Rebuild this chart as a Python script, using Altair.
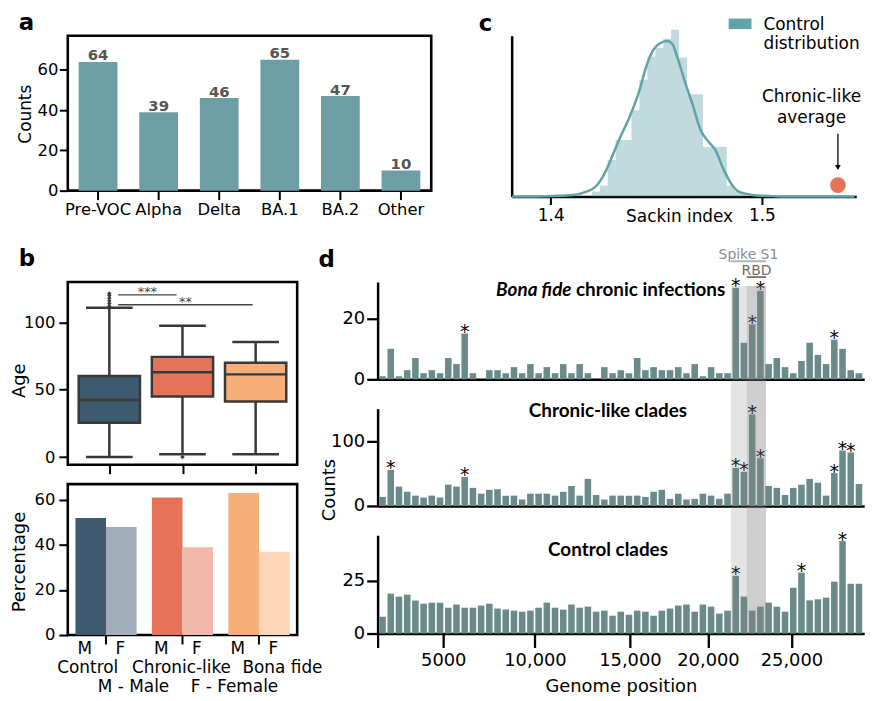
import altair as alt
import pandas as pd

FONT = "DejaVu Sans"
HEAD_FONT = "Lato"

# ---------------- panel a : clade counts ----------------
variants = ["Pre-VOC", "Alpha", "Delta", "BA.1", "BA.2", "Other"]
variant_counts = [64, 39, 46, 65, 47, 10]

# ---------------- panel b : age box statistics ----------------
groups = ["Control", "Chronic-like", "Bona fide"]
group_pos = [0, 1, 2]
age_low = [0, 2, 2]
age_q1 = [25.5, 45.0, 41.3]
age_median = [42.3, 63.0, 61.4]
age_q3 = [60.2, 74.4, 70.0]
age_high = [110.8, 97.5, 85.5]
outlier_pos = [0, 0, 0, 0, 0, 0, 1]
outlier_age = [112, 114, 116, 118, 120, 121.5, 0]
sig_text = ["***", "**"]
sig_from = [0.12, 0.12]
sig_to = [0.92, 1.96]
sig_level = [120.4, 113.1]

# ---------------- panel b : sex percentages ----------------
sexes = ["M", "F"]
male_pct = [52, 61, 63]
female_pct = [48, 39, 37]

# ---------------- panel c : Sackin index ----------------
kde_x = [1.3816, 1.4013, 1.4107, 1.4169, 1.4216, 1.4263, 1.4303, 1.4326, 1.4373, 1.4420,
         1.4451, 1.4483, 1.4514, 1.4553, 1.4577, 1.4600, 1.4639, 1.4671, 1.4710, 1.4741,
         1.4780, 1.4820, 1.4859, 1.4890, 1.4953, 1.5031, 1.5110, 1.5439]
kde_y = [0, 0.07, 0.17, 0.5, 1.07, 2.67, 4.67, 5.83, 8.0, 10.67,
         13.0, 14.67, 15.4, 15.67, 15.33, 14.0, 11.33, 9.33, 6.67, 5.67,
         4.67, 2.67, 1.17, 0.5, 0.17, 0.07, 0, 0]
hist_edges = [1.41943, 1.42320, 1.42696, 1.43072, 1.43448, 1.43824, 1.44200, 1.44576,
              1.44952, 1.45328, 1.45704, 1.46080, 1.46456, 1.46833, 1.47209, 1.47585,
              1.47961, 1.48337, 1.48713, 1.49089]
hist_height = [0.5, 1.1, 3.7, 5.7, 5.7, 8.7, 11.8, 14.1, 15.0, 15.9, 16.8, 14.0, 10.3,
               10.3, 5.0, 5.0, 5.0, 1.1, 0.5]
chronic_avg_x = [1.536]
chronic_avg_y = [1.16]
annot_lines = ["Chronic-like", "average"]
annot_x = [1.5235, 1.5235]
annot_y = [9.54, 7.41]
arrow_x = [1.536]
arrow_from = [6.33]
arrow_to = [3.1]
arrow_head = [2.93]

# ---------------- panel d : mutation counts along genome ----------------
genome_bin = list(range(1, 60))
bona_fide_counts = [1, 10, 1, 3, 7, 2, 3, 2, 7, 5, 15, 2, 0, 3, 3, 2, 4, 2, 5, 2,
                    4, 2, 5, 2, 5, 2, 0, 4, 2, 3, 2, 7, 3, 4, 3, 3, 4, 2, 5, 1,
                    4, 2, 2, 30, 12, 18, 29, 5, 7, 4, 2, 6, 12, 8, 5, 13, 10, 3, 2]
chronic_like_counts = [14, 56, 30, 22, 16, 13, 16, 13, 33, 30, 45, 28, 19, 25, 26, 16, 16, 10, 19, 19,
                       19, 16, 22, 31, 16, 42, 17, 10, 16, 16, 16, 16, 14, 22, 25, 11, 19, 10, 11, 19,
                       16, 11, 19, 59, 53, 142, 74, 31, 28, 17, 28, 33, 42, 36, 16, 51, 86, 83, 34]
control_counts = [8, 19, 17.6, 18.5, 15.7, 14.2, 14.7, 14.7, 12.3, 13.8, 12.3, 12.3, 13.3, 14.2, 11.9,
                  11.4, 10.9, 10.4, 10.9, 12.3, 14.7, 12.3, 11.4, 13.8, 12.3, 12.8, 10.4, 10.9, 8.5, 10.4,
                  9.0, 10.9, 10.4, 8.5, 10.9, 11.9, 13.3, 13.8, 10.4, 13.8, 12.8, 9.5, 10.9, 27.5, 17.6,
                  10.9, 12.8, 14.7, 12.8, 10.4, 21.8, 29, 15.8, 16.3, 17.1, 24.7, 44, 23.7, 23.7]
bona_fide_stars = [11, 44, 46, 47, 56]
chronic_like_stars = [2, 11, 44, 45, 46, 47, 56, 57, 58]
control_stars = [44, 52, 57]
genome_tick_bins = [0.40, 8.39, 19.56, 31.12, 40.62, 50.78]
genome_tick_labels = ["", "5000", "10,000", "15,000", "20,000", "25,000"]
region_names = ["Spike S1", "RBD"]
region_start = [43.4, 45.35]
region_end = [47.69, 47.69]

# ---------------- styles ----------------
TEAL_A = "#6e9ea5"
TEAL_C = "#62a3ab"
D_BAR = "#6b8b8a"
EDGE = "#383838"
RED = "#e5735a"
BOX_COLORS = ["#3d5a6e", "#e5735a", "#f8ae78"]
SEX_COLORS = ["#3d5a6e", "#a1adb8", "#e5735a", "#f0b9ab", "#f8ae78", "#fcd5b9"]
FRAME = alt.ViewBackground(stroke="black", strokeWidth=2.6)
ONE = alt.Data(values=[{"k": 1}])
D_WIDTH = 490


def letter(ch, x, y):
    return alt.Chart(ONE).mark_text(text=ch, fontSize=23, fontWeight="bold", align="left",
                                    baseline="alphabetic", color="black").encode(
        x=alt.value(x), y=alt.value(y))


def anchor(x, y):
    # invisible point that fixes the layout bounds
    return alt.Chart(ONE).mark_point(opacity=0, size=1, filled=True, strokeWidth=0).encode(
        x=alt.value(x), y=alt.value(y))


# ================= panel a =================
df_a = pd.DataFrame({"variant": variants, "count": variant_counts})
xa = alt.X("variant:N", sort=variants, title=None,
           scale=alt.Scale(paddingInner=0.36, paddingOuter=0.18),
           axis=alt.Axis(labelAngle=0, domain=False, tickSize=9, tickWidth=2,
                         labelPadding=2.3, labelFontSize=16.5))
ya = alt.Y("count:Q", scale=alt.Scale(domain=[0, 77], nice=False),
           axis=alt.Axis(values=[0, 20, 40, 60], domain=False, tickSize=8.5, tickWidth=2,
                         labelPadding=1.5, labelFontSize=16.5, title="Counts", titleFontSize=17,
                         titleX=-42.7, titleY=78.5, titleAngle=270, titleAlign="center",
                         titleBaseline="middle"))
a_bars = alt.Chart(df_a).mark_bar(color=TEAL_A).encode(x=xa, y=ya)
a_text = alt.Chart(df_a).mark_text(fontSize=15, fontWeight="bold", color="#555555",
                                   baseline="alphabetic", dy=-1.5).encode(x=xa, y=ya, text="count:Q")
panel_a = alt.layer(a_bars, a_text, letter("a", -49.4, -5.5), anchor(-80, -45)).properties(
    width=366, height=156, view=FRAME)

# ================= panel b (age) =================
df_box = pd.DataFrame({"pos": group_pos, "group": groups, "lo": age_low, "q1": age_q1,
                       "med": age_median, "q3": age_q3, "hi": age_high})
df_out = pd.DataFrame({"pos": outlier_pos, "age": outlier_age})
df_sig = pd.DataFrame({"label": sig_text, "x0": sig_from, "x1": sig_to, "y": sig_level})

xb_scale = alt.Scale(domain=[-0.5, 2.5], nice=False, zero=False)
xb_axis = alt.Axis(values=[0, 1, 2], labels=False, domain=False, tickSize=9, tickWidth=2, title=None)
yb_scale = alt.Scale(domain=[-5.7, 130], nice=False, zero=False)
yb_axis = alt.Axis(values=[0, 50, 100], domain=False, tickSize=9, tickWidth=2, labelPadding=4,
                   labelFontSize=16.5, title="Age", titleFontSize=18, titleX=-48.8, titleY=99,
                   titleAngle=270, titleAlign="center", titleBaseline="middle")


def xb(f):
    return alt.X(f"{f}:Q", scale=xb_scale, axis=xb_axis)


def yb(f):
    return alt.Y(f"{f}:Q", scale=yb_scale, axis=yb_axis)


box_base = alt.Chart(df_box)
w_lo = box_base.mark_rule(color=EDGE, strokeWidth=2.5).encode(x=xb("pos"), y=yb("lo"), y2="q1:Q")
w_hi = box_base.mark_rule(color=EDGE, strokeWidth=2.5).encode(x=xb("pos"), y=yb("q3"), y2="hi:Q")
boxes = box_base.mark_bar(size=61.7, stroke=EDGE, strokeWidth=2.5).encode(
    x=xb("pos"), y=yb("q1"), y2="q3:Q",
    color=alt.Color("group:N", scale=alt.Scale(domain=groups, range=BOX_COLORS), legend=None))
cap_lo = box_base.mark_tick(size=47, thickness=2.5, orient="horizontal", color=EDGE, opacity=1).encode(
    x=xb("pos"), y=yb("lo"))
cap_hi = box_base.mark_tick(size=47, thickness=2.5, orient="horizontal", color=EDGE, opacity=1).encode(
    x=xb("pos"), y=yb("hi"))
medians = box_base.mark_tick(size=61.7, thickness=2.5, orient="horizontal", color=EDGE, opacity=1).encode(
    x=xb("pos"), y=yb("med"))
outliers = alt.Chart(df_out).mark_point(shape="diamond", filled=True, size=20, color="#3a3a3a",
                                        opacity=1).encode(x=xb("pos"), y=yb("age"))
sig_rules = alt.Chart(df_sig).mark_rule(color="#444444", strokeWidth=1.3).encode(
    x=xb("x0"), x2="x1:Q", y=yb("y"))
sig_labels = alt.Chart(df_sig).transform_calculate(xm="(datum.x0 + datum.x1) / 2").mark_text(
    fontSize=13, color="#444444", baseline="alphabetic", dy=1).encode(x=xb("xm"), y=yb("y"), text="label:N")
panel_b1 = alt.layer(w_lo, w_hi, boxes, cap_lo, cap_hi, medians, outliers, sig_rules, sig_labels,
                     letter("b", -49.4, -16.5), anchor(-80, -48)).properties(
    width=231, height=184, view=FRAME)

# ================= panel b (sex) =================
df_sex = pd.DataFrame({"group": groups * 2, "sex": ["M"] * 3 + ["F"] * 3,
                       "pct": male_pct + female_pct})
df_sex["key"] = df_sex["group"] + "-" + df_sex["sex"]
keys = [f"{g}-{s}" for g in groups for s in sexes]
x2b = alt.X("group:N", sort=groups, scale=alt.Scale(paddingInner=0.2, paddingOuter=0.1),
            axis=alt.Axis(labelAngle=0, domain=False, tickSize=9, tickWidth=2, labelPadding=16,
                          labelFontSize=17,
                          labelOffset={"condition": [{"test": "datum.label === 'Control'", "value": -18.4},
                                                     {"test": "datum.label === 'Bona fide'", "value": 23.7}],
                                       "value": -1},
                          title="M - Male\u00a0\u00a0\u00a0\u00a0F - Female", titleFontSize=17,
                          titleX=120.6, titleY=57, titleBaseline="alphabetic", titleAlign="center"))
xo = alt.XOffset("sex:N", sort=sexes, scale=alt.Scale(paddingInner=0, paddingOuter=0))
y2b = alt.Y("pct:Q", scale=alt.Scale(domain=[0, 67], nice=False),
            axis=alt.Axis(values=[0, 20, 40, 60], domain=False, tickSize=9, tickWidth=2, labelPadding=4,
                          labelFontSize=16.5, title="Percentage", titleFontSize=18, titleX=-48.2,
                          titleY=78, titleAngle=270, titleAlign="center", titleBaseline="middle"))
sex_bars = alt.Chart(df_sex).mark_bar().encode(
    x=x2b, xOffset=xo, y=y2b,
    color=alt.Color("key:N", scale=alt.Scale(domain=keys, range=SEX_COLORS), legend=None))
m_text = alt.Chart(df_sex).transform_filter("datum.sex === 'M'").mark_text(
    fontSize=17, baseline="alphabetic", dx=-6).encode(x=x2b, xOffset=xo, y=alt.value(171.5), text="sex:N")
f_text = alt.Chart(df_sex).transform_filter("datum.sex === 'F'").mark_text(
    fontSize=17, baseline="alphabetic", dx=-1).encode(x=x2b, xOffset=xo, y=alt.value(171.5), text="sex:N")
panel_b2 = alt.layer(sex_bars, m_text, f_text, anchor(276, 232)).properties(
    width=231, height=152, view=FRAME)

# ================= panel c =================
df_hist = pd.DataFrame({"x0": hist_edges[:-1], "x1": hist_edges[1:], "h": hist_height,
                        "series": "Control distribution"})
df_kde = pd.DataFrame({"x": kde_x, "y": kde_y})
df_avg = pd.DataFrame({"x": chronic_avg_x, "y": chronic_avg_y})
df_annot = pd.DataFrame({"t": annot_lines, "x": annot_x, "y": annot_y})
df_arrow = pd.DataFrame({"x": arrow_x, "y0": arrow_from, "y1": arrow_to, "yh": arrow_head})

xc_scale = alt.Scale(domain=[1.3815, 1.5447], nice=False, zero=False)
xc_axis = alt.Axis(values=[1.4, 1.5], format=".1f", tickSize=8, tickWidth=2, labelPadding=3.4,
                   labelFontSize=17, labelFlush=False, title="Sackin index", titleFontSize=17,
                   titleX=168.6, titleY=25, titleBaseline="alphabetic", titleAlign="center")
yc_scale = alt.Scale(domain=[0, 16.2], nice=False, zero=True)
yc_axis = alt.Axis(title=None, labels=False, ticks=False, domain=True)


def xc(f):
    return alt.X(f"{f}:Q", scale=xc_scale, axis=xc_axis)


def yc(f):
    return alt.Y(f"{f}:Q", scale=yc_scale, axis=yc_axis)


hist = alt.Chart(df_hist).mark_bar(opacity=0.4).encode(
    x=xc("x0"), x2="x1:Q", y=yc("h"), y2=alt.datum(0),
    color=alt.Color("series:N", scale=alt.Scale(domain=["Control distribution"], range=[TEAL_C]),
                    legend=alt.Legend(orient="none", legendX=218.5, legendY=-17, title=None,
                                      padding=0, symbolType="M-1,-1.025H1V-0.105H-1Z", symbolSize=529,
                                      symbolOpacity=1, symbolStrokeWidth=0, labelFontSize=17,
                                      labelOffset=12, labelBaseline="alphabetic",
                                      labelExpr="['Control', 'distribution']")))
kde = alt.Chart(df_kde).mark_line(color=TEAL_C, strokeWidth=2.5, interpolate="monotone").encode(
    x=xc("x"), y=yc("y"))
avg_dot = alt.Chart(df_avg).mark_point(filled=True, size=250, color=RED, opacity=1).encode(
    x=xc("x"), y=yc("y"))
arrow_line = alt.Chart(df_arrow).mark_rule(color="black", strokeWidth=1.3).encode(
    x=xc("x"), y=yc("y0"), y2="y1:Q")
arrow_tip = alt.Chart(df_arrow).mark_point(shape="triangle-down", filled=True, size=32, color="black",
                                           opacity=1).encode(x=xc("x"), y=yc("yh"))
annot = alt.Chart(df_annot).mark_text(fontSize=17, baseline="alphabetic").encode(
    x=xc("x"), y=yc("y"), text="t:N")
panel_c = alt.layer(hist, kde, avg_dot, arrow_line, arrow_tip, annot, letter("c", -33.2, -5),
                    anchor(0, 197)).properties(width=347, height=162)

# ================= panel d =================
tick_expr = ("[" + ",".join(f"'{l}'" for l in genome_tick_labels) + "][indexof(["
             + ",".join(str(v) for v in genome_tick_bins) + "], datum.value)]")
df_reg = pd.DataFrame({"region": region_names, "start": region_start, "end": region_end})
X_DOMAIN = [0.40, 59.64]


def genome_panel(counts, stars, ymax, ytick, height, bottom, shade_top, shade_bottom,
                 titles, extra=(), y_title=None):
    df = pd.DataFrame({"bin": genome_bin, "count": counts})
    df["star"] = df["bin"].isin(stars)
    if bottom:
        xaxis = alt.Axis(values=genome_tick_bins, labelExpr=tick_expr, tickSize=14, tickWidth=2.3,
                         labelPadding=4.5, labelFontSize=18, labelFlush=False, labelOverlap=False,
                         title="Genome position", titleFontSize=18, titleY=58.5,
                         titleBaseline="alphabetic")
    else:
        xaxis = alt.Axis(ticks=False, labels=False, title=None)
    if y_title:
        yaxis = alt.Axis(values=[0, ytick], tickSize=11, tickWidth=2.3, labelPadding=2, labelFontSize=18,
                         title=y_title, titleFontSize=18, titleX=-48.7, titleY=81.5, titleAngle=270,
                         titleAlign="center", titleBaseline="middle")
    else:
        yaxis = alt.Axis(values=[0, ytick], tickSize=11, tickWidth=2.3, labelPadding=2, labelFontSize=18,
                         title=None)
    xs = alt.Scale(domain=X_DOMAIN, nice=False, zero=False)
    ys = alt.Scale(domain=[0, ymax], nice=False)

    def xd(f):
        return alt.X(f"{f}:Q", scale=xs, axis=xaxis)

    def yd(f):
        return alt.Y(f"{f}:Q", scale=ys, axis=yaxis)

    base = alt.Chart(df)
    bars = base.transform_calculate(x0="datum.bin - 0.4", x1="datum.bin + 0.4").mark_bar(
        color=D_BAR).encode(x=xd("x0"), x2="x1:Q", y=yd("count"), y2=alt.datum(0))
    star = base.transform_filter("datum.star").mark_text(
        text="*", fontSize=19, baseline="alphabetic", dy=4.5, color="black").encode(
        x=xd("bin"), y=yd("count"))
    shade = alt.Chart(df_reg).mark_rect(color="#808080", opacity=0.21).encode(
        x=xd("start"), x2="end:Q", y=alt.value(shade_top), y2=alt.value(shade_bottom))
    layers = [bars, star, shade]
    for (txt, style, align, tx, ty) in titles:
        layers.append(alt.Chart(ONE).mark_text(
            text=txt, font=HEAD_FONT, fontWeight="bold", fontStyle=style, fontSize=19,
            align=align, baseline="middle", color="black").encode(x=alt.value(tx), y=alt.value(ty)))
    for builder in extra:
        layers.append(builder(xd))
    return alt.layer(*layers).properties(width=D_WIDTH, height=height)


def s1_text(xd):
    return alt.Chart(df_reg).transform_filter("datum.region === 'Spike S1'").transform_calculate(
        c="(datum.start + datum.end) / 2").mark_text(fontSize=14, color="#8c8c8c", baseline="middle").encode(
        x=xd("c"), y=alt.value(-27), text="region:N")


def s1_line(xd):
    return alt.Chart(df_reg).transform_filter("datum.region === 'Spike S1'").mark_rule(
        color="#b5b5b5", strokeWidth=2).encode(x=xd("start"), x2="end:Q", y=alt.value(-21))


def rbd_text(xd):
    return alt.Chart(df_reg).transform_filter("datum.region === 'RBD'").transform_calculate(
        c="(datum.start + datum.end) / 2").mark_text(fontSize=14, color="#6e6e6e", baseline="middle").encode(
        x=xd("c"), y=alt.value(-11), text="region:N")


def rbd_line(xd):
    return alt.Chart(df_reg).transform_filter("datum.region === 'RBD'").mark_rule(
        color="#555555", strokeWidth=1.5).encode(x=xd("start"), x2="end:Q", y=alt.value(-5))


def d_letter(xd):
    return letter("d", -59.5, -14.8)


def d_anchor_left(xd):
    return anchor(-70, -48)


def d_anchor_right(xd):
    return anchor(D_WIDTH + 30, 0)


d1 = genome_panel(bona_fide_counts, bona_fide_stars, 31.9, 20, 98, False, 4, 127.5,
                  [("Bona fide", "italic", "right", 195.3, 8.5),
                   ("chronic infections", "normal", "left", 199.8, 8.5)],
                  extra=(s1_text, s1_line, rbd_text, rbd_line, d_letter, d_anchor_left, d_anchor_right))
d2 = genome_panel(chronic_like_counts, chronic_like_stars, 151, 100, 98, False, 0, 127.5,
                  [("Chronic-like clades", "normal", "center", 232, 2.5)], y_title="Counts")
d3 = genome_panel(control_counts, control_stars, 46.8, 25, 99, True, 0, 99,
                  [("Control clades", "normal", "center", 232, 14.5)])

# ================= assemble =================
row1 = alt.hconcat(panel_a, panel_c, spacing=81, bounds="flush").resolve_scale(color="independent")
col_b = alt.vconcat(panel_b1, panel_b2, spacing=19.5, bounds="flush").resolve_scale(color="independent")
col_d = alt.vconcat(d1, d2, d3, spacing=29.5, bounds="flush")
row2 = alt.hconcat(col_b, col_d, spacing=-37).resolve_scale(color="independent")
chart = alt.vconcat(row1, row2, spacing=0).resolve_scale(color="independent").properties(
    padding={"left": -21.8, "top": -21.5, "right": -29.2, "bottom": -19}
).configure(font=FONT).configure_view(stroke=None).configure_axis(
    domainColor="black", domainWidth=2.5, tickColor="black", labelColor="black", titleColor="black",
    grid=False, labelFont=FONT, titleFont=FONT, titleFontWeight="normal"
)

chart.save("out.html", embed_options={"renderer": "svg", "actions": False})
